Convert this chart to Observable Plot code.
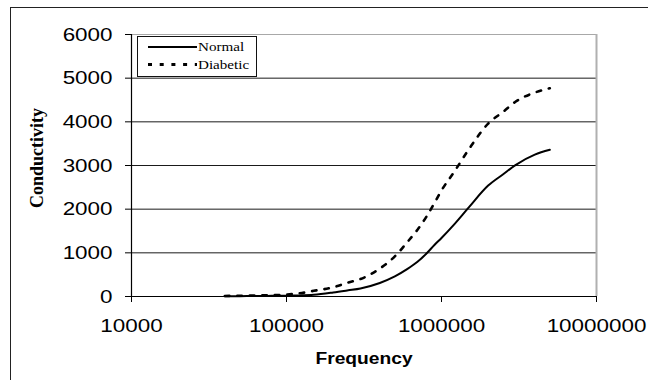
<!DOCTYPE html>
<html><head><meta charset="utf-8">
<script src="https://cdn.jsdelivr.net/npm/d3@7"></script>
<script src="https://cdn.jsdelivr.net/npm/@observablehq/plot@0.6"></script>
<style>
body{margin:0;background:#fff;}
#wrap{position:relative;width:648px;height:380px;overflow:hidden;background:#fff;}
#frame{position:absolute;left:10px;top:6.5px;width:700px;height:420px;border:1px solid #222;box-sizing:border-box;}
#chart{position:absolute;left:0;top:0;}
#legend{position:absolute;left:136.5px;top:36px;width:120px;height:41px;border:1px solid #111;background:#fff;box-sizing:border-box;}
#legend svg{position:absolute;left:0;top:0;}
.ltxt{position:absolute;left:60px;font-family:"Liberation Serif","Times New Roman",serif;font-size:12.8px;color:#000;transform:scaleX(1.18);transform-origin:left center;line-height:14px;white-space:nowrap;}
</style>
</head><body>
<div id="wrap"><div id="frame"></div><div id="chart"></div><div id="legend"></div></div>
<script>
// Data
const frequency = [40000, 50000, 60000, 70000, 80000, 90000, 100000, 120000, 150000, 200000, 250000, 300000, 400000, 500000, 600000, 700000, 800000, 900000, 1000000, 1200000, 1500000, 2000000, 2500000, 3000000, 4000000, 5000000];
const normal   = [5, 7, 10, 12, 15, 17, 20, 25, 40, 92, 142, 185, 310, 460, 625, 795, 985, 1180, 1340, 1640, 2040, 2540, 2800, 3010, 3250, 3360];
const diabetic = [12, 18, 22, 28, 32, 36, 45, 70, 130, 210, 320, 400, 640, 920, 1240, 1530, 1830, 2140, 2430, 2840, 3370, 3960, 4230, 4460, 4670, 4770];
const seriesNames = ["Normal", "Diabetic"];
const xTicks = [10000, 100000, 1000000, 10000000];
const yTicks = [0, 1000, 2000, 3000, 4000, 5000, 6000];

const rowsNormal = frequency.map((f, i) => ({f, v: normal[i]}));
const rowsDiabetic = frequency.map((f, i) => ({f, v: diabetic[i]}));

const chart = Plot.plot({
  width: 648, height: 380,
  marginLeft: 131, marginRight: 52, marginTop: 34, marginBottom: 84,
  style: {fontFamily: "'Liberation Sans', Arial, sans-serif", fontSize: "19px", color: "#000", background: "transparent", overflow: "visible"},
  x: {type: "log", domain: [10000, 10000000]},
  y: {domain: [0, 6000]},
  marks: [
    Plot.ruleY(yTicks.filter(d => d > 0 && d < 6000), {stroke: "#1a1a1a", strokeWidth: 1}),
    Plot.ruleY([6000], {stroke: "#a8a8a8", strokeWidth: 1.2}),
    Plot.ruleX([10000000], {stroke: "#b0b0b0", strokeWidth: 2}),
    Plot.ruleX([10000], {stroke: "#000", strokeWidth: 1.2}),
    Plot.ruleY([0], {stroke: "#000", strokeWidth: 1.2}),
    Plot.axisX({ticks: xTicks, tickFormat: d => String(d), tickSize: 6, tickPadding: 16,
      label: "Frequency", labelAnchor: "center", labelArrow: "none", labelOffset: 67}),
    Plot.axisY({ticks: yTicks, tickFormat: d => String(d), tickSize: 6, tickPadding: 13,
      label: "Conductivity", labelAnchor: "center", labelArrow: "none", labelOffset: 101}),
    Plot.line(rowsNormal, {x: "f", y: "v", stroke: "#000", strokeWidth: 2, curve: "monotone-x"}),
    Plot.line(rowsDiabetic, {x: "f", y: "v", stroke: "#000", strokeWidth: 2.6, strokeDasharray: "4.5,8", curve: "monotone-x"})
  ]
});
document.getElementById("chart").appendChild(chart);

// style labels
const xl = chart.querySelector('g[aria-label="x-axis label"] text');
if (xl) { xl.style.fontWeight = "bold"; xl.style.fontSize = "16.3px"; }
const yl = chart.querySelector('g[aria-label="y-axis label"] text');
if (yl) { yl.style.fontWeight = "bold"; yl.style.fontSize = "18px"; yl.style.fontFamily = "'Liberation Serif','Times New Roman',serif"; yl.setAttribute("dx", "7.5"); }

// horizontal stretch like the reference image
const stretch = 1.18;
chart.querySelectorAll('g[aria-label="x-axis tick label"] text, g[aria-label="y-axis tick label"] text, g[aria-label="x-axis label"] text').forEach(t => {
  const L = t.getComputedTextLength();
  t.setAttribute("textLength", (L * stretch).toFixed(2));
  t.setAttribute("lengthAdjust", "spacingAndGlyphs");
});

// legend
const legend = document.getElementById("legend");
const ns = "http://www.w3.org/2000/svg";
const lsvg = document.createElementNS(ns, "svg");
lsvg.setAttribute("width", 118); lsvg.setAttribute("height", 39);
const styles = [{w: 2, dash: null}, {w: 3, dash: "4,7.7"}];
const rowsY = [10, 27.5];
seriesNames.forEach((name, i) => {
  const ln = document.createElementNS(ns, "line");
  ln.setAttribute("x1", 10); ln.setAttribute("x2", 59);
  ln.setAttribute("y1", rowsY[i]); ln.setAttribute("y2", rowsY[i]);
  ln.setAttribute("stroke", "#000"); ln.setAttribute("stroke-width", styles[i].w);
  if (styles[i].dash) ln.setAttribute("stroke-dasharray", styles[i].dash);
  lsvg.appendChild(ln);
  const sp = document.createElement("div");
  sp.className = "ltxt"; sp.textContent = name;
  sp.style.top = (rowsY[i] - 7) + "px";
  legend.appendChild(sp);
});
legend.appendChild(lsvg);
</script>
</body></html>
